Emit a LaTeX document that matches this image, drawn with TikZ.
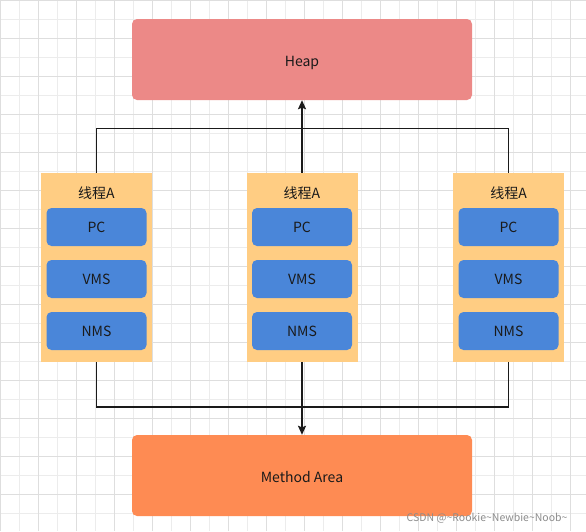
\documentclass[tikz,border=0pt]{standalone}
\usepackage{fontspec}
\setmainfont{Noto Sans CJK SC}
\usetikzlibrary{arrows.meta}

\definecolor{heapred}{RGB}{236,137,135}
\definecolor{methodorange}{RGB}{254,139,83}
\definecolor{threadyellow}{RGB}{255,205,131}
\definecolor{areablue}{RGB}{74,134,217}
\definecolor{inkdark}{RGB}{26,26,26}
\definecolor{gridminor}{RGB}{236,236,236}
\definecolor{gridmajor}{RGB}{222,222,222}

\tikzset{
    label14/.style={font=\fontsize{14}{16}\selectfont, text=inkdark,
        text height=10pt, text depth=0pt},
    memarea/.style={label14, text height=14pt, rounded corners=5pt,
        minimum width=340pt, minimum height=81pt},
    threadbox/.style={fill=threadyellow, minimum width=111pt, minimum height=189pt},
    regbox/.style={label14, fill=areablue, rounded corners=5pt, minimum width=100pt,
        minimum height=38pt},
    wire/.style={draw=inkdark, line width=1.6pt},
    towards/.style={wire, -{Stealth[length=9pt,width=8pt,inset=1.5pt]}}
}

\begin{document}
\begin{tikzpicture}[x=1pt,y=-1pt]
        \useasboundingbox (0,0) rectangle (586,531);
        \fill [white] (0,0) rectangle (586,531);
        % background grid
        \draw [gridminor, line width=0.8pt] (0,0) grid [step=19pt] (586,531);
        \draw [gridmajor, line width=0.8pt] (0,0) grid [step=38pt] (586,531);

        \node [memarea, fill=heapred] (heap) at (302,59.5) {Heap};
        \node [memarea, fill=methodorange] (method) at (302,475.5) {Method Area};

        % three threads
        \node [threadbox] (thrL) at (96.5,267.5) {};
        \node [threadbox] (thrM) at (302,267.5) {};
        \node [threadbox] (thrR) at (508.5,267.5) {};

        \node [label14] (titleL) at (96.5,193) {线程A};
        \node [label14] (titleM) at (302,193) {线程A};
        \node [label14] (titleR) at (508.5,193) {线程A};

        \node [regbox] (pcL) at (96.5,227) {PC};
        \node [regbox] (vmsL) at (96.5,279) {VMS};
        \node [regbox] (nmsL) at (96.5,331) {NMS};
        \node [regbox] (pcM) at (302,227) {PC};
        \node [regbox] (vmsM) at (302,279) {VMS};
        \node [regbox] (nmsM) at (302,331) {NMS};
        \node [regbox] (pcR) at (508.5,227) {PC};
        \node [regbox] (vmsR) at (508.5,279) {VMS};
        \node [regbox] (nmsR) at (508.5,331) {NMS};

        % buses to heap and method area
        \coordinate (topbus) at (302,128.5);
        \coordinate (lowbus) at (302,407);
        \draw [wire] (thrL.north) |- (topbus) -| (thrR.north);
        \draw [wire] (thrL.south) |- (lowbus) -| (thrR.south);
        \draw [towards] (thrM.north) -- (heap.south);
        \draw [towards] (thrM.south) -- (method.north);

        \node [anchor=base east, font=\fontsize{10.5}{12}\selectfont, text=black!45] (mark)
            at (571,521) {CSDN @\textasciitilde Rookie\textasciitilde Newbie\textasciitilde Noob\textasciitilde};
    \end{tikzpicture}
\end{document}
